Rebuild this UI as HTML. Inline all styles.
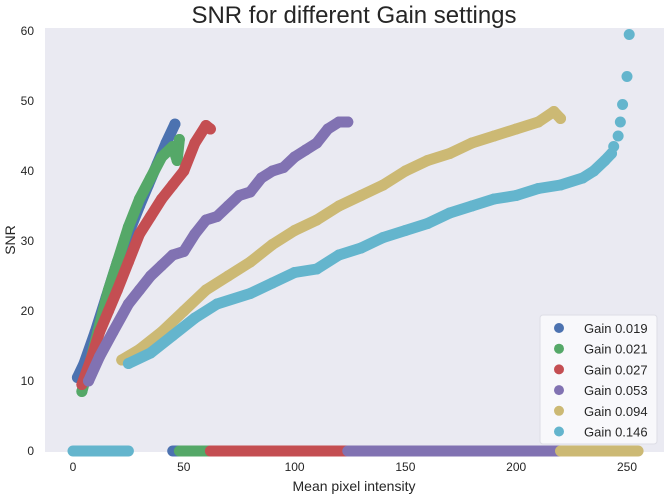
<!DOCTYPE html>
<html><head><meta charset="utf-8"><style>
body{margin:0;background:#fff;}
svg{display:block;font-family:"Liberation Sans",sans-serif;}
</style></head><body>
<svg id="chart" width="664" height="495">
<rect x="45" y="28" width="619" height="424" fill="#EAEAF2"/>
<text x="354" y="23" font-size="24" text-anchor="middle" fill="#262626">SNR for different Gain settings</text>
<text x="354" y="491" font-size="14" text-anchor="middle" fill="#262626">Mean pixel intensity</text>
<text x="15" y="240" font-size="14" text-anchor="middle" fill="#262626" transform="rotate(-90 15 240)">SNR</text>
<g id="ticks"></g><g id="series"></g><g id="legend"></g>
</svg>
<script>
const xTicks=[0,50,100,150,200,250];
const yTicks=[0,10,20,30,40,50,60];
const labels=["Gain 0.019","Gain 0.021","Gain 0.027","Gain 0.053","Gain 0.094","Gain 0.146"];
const colors=["#4C72B0","#55A868","#C44E52","#8172B2","#CCB974","#64B5CD"];
const zeroStart=[45,48,62,124,220,0];
const zeroEnd=[60,62,124,220,255,25];
const s019x=[2,5,10,15,20,25,30,34,38,42,46];
const s019y=[10.5,12.5,17,22,27,31,35,38,41,44,46.7];
const s021x=[4,8,12,16,20,25,30,35,40,45,47,48];
const s021y=[8.5,13,18,23,27,32,36,39,42,43.5,41.5,44.5];
const s027x=[4,8,12,16,20,25,30,35,40,45,50,55,60,62];
const s027y=[9.5,13,17,20,23,27,31,33.5,36,38,40,44,46.5,46];
const s053x=[7,12,18,25,30,35,40,45,50,55,60,65,70,75,80,85,90,95,100,105,110,115,120,124];
const s053y=[10,13.5,17,21,23,25,26.5,28,28.5,31,33,33.5,35,36.5,37,39,40,40.5,42,43,44,46,47,47];
const s094x=[22,30,40,50,60,70,80,90,100,110,120,130,140,150,160,170,180,190,200,210,217,220];
const s094y=[13,14.5,17,20,23,25,27,29.5,31.5,33,35,36.5,38,40,41.5,42.5,44,45,46,47,48.5,47.5];
const s146x=[25,35,45,55,65,80,90,100,110,120,130,140,150,160,170,180,190,200,210,220,230,235,240,243,244,246,247,248,250,251];
const s146y=[12.5,14,16.5,19,21,22.5,24,25.5,26,28,29,30.5,31.5,32.5,34,35,36,36.5,37.5,38,39,40,41.5,42.5,43.5,45,47,49.5,53.5,59.5];
const xs=[s019x,s021x,s027x,s053x,s094x,s146x];
const ys=[s019y,s021y,s027y,s053y,s094y,s146y];
const NS="http://www.w3.org/2000/svg";
function sx(v){return 73+v*2.216;}
function sy(v){return 451-v*7.0;}
function mk(t,p){const e=document.createElementNS(NS,t);for(const k in p)e.setAttribute(k,p[k]);return e;}
const tg=document.getElementById('ticks');
xTicks.forEach(v=>{const t=mk('text',{x:sx(v),y:471,'font-size':12,'text-anchor':'middle',fill:'#262626'});t.textContent=v;

tg.appendChild(t);});
yTicks.forEach(v=>{const t=mk('text',{x:34,y:sy(v)+4,'font-size':12,'text-anchor':'end',fill:'#262626'});t.textContent=v;

tg.appendChild(t);});
const sg=document.getElementById('series');
for(let i=0;i<6;i++){
 const g=mk('g',{});
 
 
 const z=mk('line',{x1:sx(zeroStart[i]),y1:sy(0),x2:sx(zeroEnd[i]),y2:sy(0),stroke:colors[i],'stroke-width':11,'stroke-linecap':'round'});
 
 
 g.appendChild(z);
 const X=xs[i],Y=ys[i];
 let n=X.length; if(i===5) n=24;
 let d='';for(let j=0;j<n;j++)d+=(j?'L':'M')+sx(X[j])+' '+sy(Y[j]);
 const p=mk('path',{d:d,fill:'none',stroke:colors[i],'stroke-width':11,'stroke-linecap':'round','stroke-linejoin':'round'});
 
 
 g.appendChild(p);
 for(let j=0;j<X.length;j++){const c=mk('circle',{cx:sx(X[j]),cy:sy(Y[j]),r:5.5,fill:colors[i]});
 
 g.appendChild(c);}
 sg.appendChild(g);
}
const lg=document.getElementById('legend');
const box=mk('rect',{x:540,y:315,width:117,height:129,rx:3,fill:'#F8F8FB',stroke:'#DDDDE5','stroke-width':1});


lg.appendChild(box);
labels.forEach((l,i)=>{const yy=328+i*20.7;
 const c=mk('circle',{cx:559,cy:yy,r:5,fill:colors[i]});
 
 lg.appendChild(c);
 const t=mk('text',{x:584,y:yy+5,'font-size':13,fill:'#262626'});t.textContent=l;
 
 lg.appendChild(t);});
</script>
</body></html>
